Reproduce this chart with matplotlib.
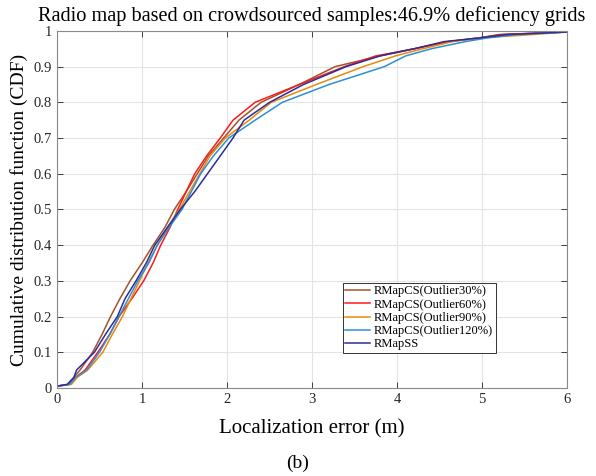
import numpy as np
import matplotlib
matplotlib.use('Agg')
import matplotlib.pyplot as plt

cdf_levels = [0.005, 0.01, 0.03, 0.05, 0.1, 0.15, 0.2, 0.25, 0.3, 0.35, 0.4, 0.45, 0.5,
              0.55, 0.6, 0.65, 0.7, 0.75, 0.8, 0.85, 0.9, 0.93, 0.95, 0.97, 0.98, 0.99, 0.997]

err_out30 = [0, 0.14, 0.20, 0.27, 0.42, 0.53, 0.63, 0.74, 0.86, 1.00, 1.13, 1.27, 1.38,
             1.52, 1.65, 1.78, 1.96, 2.14, 2.40, 2.85, 3.27, 3.80, 4.20, 4.60, 4.95, 5.20, 6.0]
err_out60 = [0, 0.15, 0.22, 0.33, 0.48, 0.62, 0.73, 0.88, 1.02, 1.13, 1.22, 1.33, 1.42,
             1.52, 1.62, 1.76, 1.92, 2.07, 2.33, 2.85, 3.38, 3.75, 4.20, 4.60, 4.95, 5.25, 6.0]
err_out90 = [0, 0.17, 0.24, 0.36, 0.54, 0.65, 0.77, 0.87, 0.97, 1.07, 1.18, 1.30, 1.44,
             1.56, 1.68, 1.80, 1.98, 2.26, 2.52, 3.05, 3.60, 3.98, 4.30, 4.65, 4.95, 5.60, 6.0]
err_out120 = [0, 0.15, 0.22, 0.35, 0.50, 0.62, 0.73, 0.84, 0.95, 1.08, 1.18, 1.32, 1.47,
              1.58, 1.69, 1.84, 2.02, 2.33, 2.65, 3.20, 3.85, 4.10, 4.40, 4.80, 5.05, 5.40, 6.0]
err_rmapss = [0, 0.12, 0.20, 0.23, 0.44, 0.57, 0.71, 0.80, 0.93, 1.05, 1.15, 1.30, 1.45,
              1.62, 1.77, 1.92, 2.07, 2.20, 2.50, 2.90, 3.40, 3.80, 4.20, 4.55, 4.95, 5.30, 6.0]

labels = ['RMapCS(Outlier30%)', 'RMapCS(Outlier60%)', 'RMapCS(Outlier90%)',
          'RMapCS(Outlier120%)', 'RMapSS']
colors = ['#A5522A', '#FF1A1A', '#E8890C', '#2E8FD6', '#2B2E9A']

plt.rcParams['font.family'] = ['Liberation Serif', 'DejaVu Serif']

fig = plt.figure(figsize=(5.96, 4.76), dpi=100)
ax = fig.add_axes([0.0956, 0.185, 0.856, 0.75])

series = [err_out30, err_out60, err_out90, err_out120, err_rmapss]
for errs, lab, col in zip(series, labels, colors):
    ax.plot(errs, cdf_levels, color=col, lw=1.1, label=lab)

ax.set_xlim(0, 6)
ax.set_ylim(0, 1)
ax.set_xticks(np.arange(0, 7, 1))
ax.set_yticks(np.arange(0, 1.01, 0.1))
ax.set_yticklabels(['0', '0.1', '0.2', '0.3', '0.4', '0.5', '0.6', '0.7', '0.8', '0.9', '1'])
ax.grid(True, color='#E3E3E3', lw=0.8)
ax.set_axisbelow(True)
ax.tick_params(direction='in', top=True, right=True, labelsize=10.5,
               colors='#262626', length=4, width=0.6)
for sp in ax.spines.values():
    sp.set_color('#8A8A8A')
    sp.set_linewidth(0.8)

ax.set_xlabel('Localization error (m)', fontsize=15, labelpad=10)
ax.set_ylabel('Cumulative distribution function (CDF)', fontsize=14, labelpad=4)
ax.set_title('Radio map based on crowdsourced samples:46.9% deficiency grids',
             fontsize=14.6, pad=7)

leg = ax.legend(loc='lower left', bbox_to_anchor=(0.56, 0.098), fontsize=9,
                frameon=True, fancybox=False, edgecolor='#333333', framealpha=1,
                handlelength=2.0, handletextpad=0.3, borderpad=0.2, labelspacing=0.1,
                borderaxespad=0)
leg.get_frame().set_linewidth(0.7)

fig.text(0.5, 0.027, '(b)', ha='center', va='center', fontsize=14)

fig.savefig('out.png', dpi=100)
